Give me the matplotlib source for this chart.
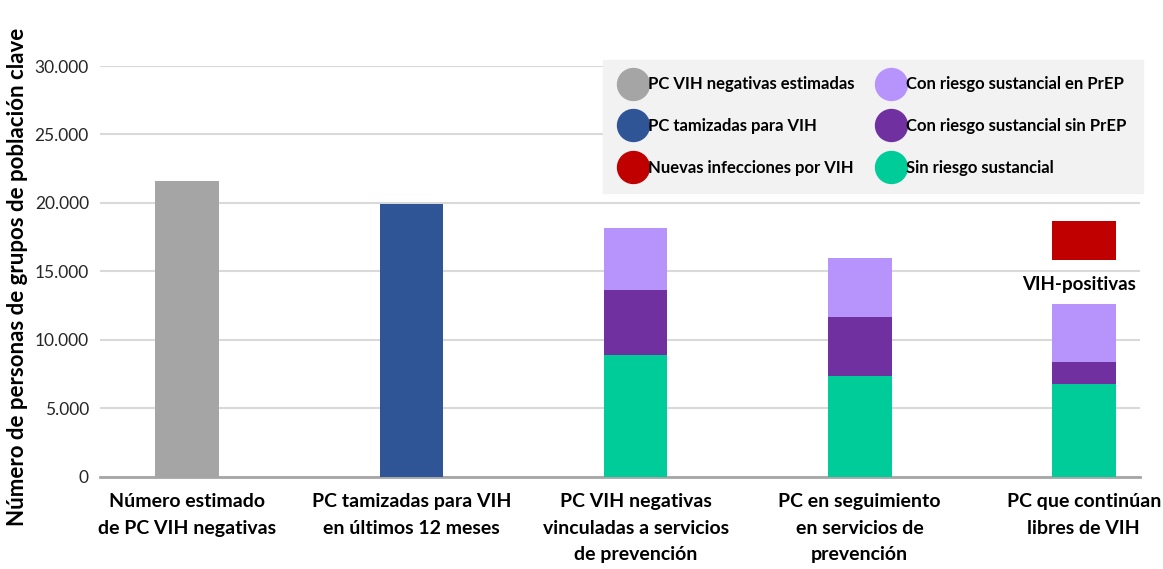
import numpy as np
import matplotlib.pyplot as plt
from matplotlib.lines import Line2D
from matplotlib.ticker import FuncFormatter

plt.rcParams['font.family'] = ['Lato', 'DejaVu Sans']

categories = ['Número estimado\nde PC VIH negativas',
              'PC tamizadas para VIH\nen últimos 12 meses',
              'PC VIH negativas\nvinculadas a servicios\nde prevención',
              'PC en seguimiento\nen servicios de\nprevención',
              'PC que continúan\nlibres de VIH']
estimadas = 21600
tamizadas = 19900
sin_riesgo = [8900, 7370, 6800]
sin_prep = [4750, 4280, 1600]
en_prep = [4550, 4350, 4200]
infecciones_base = 15800
infecciones = 2900

c_gray = '#a5a5a5'
c_blue = '#2f5597'
c_red = '#c00000'
c_light = '#b794fc'
c_dark = '#7030a0'
c_green = '#00cc99'

fig = plt.figure(figsize=(11.63, 5.69), dpi=100)
ax = fig.add_axes([0.086, 0.162, 0.894, 0.722])

x = np.arange(len(categories))
w = 0.285
ax.bar(x[0], estimadas, w, color=c_gray, zorder=3)
ax.bar(x[1], tamizadas, w, color=c_blue, zorder=3)
xs = x[2:]
ax.bar(xs, sin_riesgo, w, color=c_green, zorder=3)
ax.bar(xs, sin_prep, w, bottom=sin_riesgo, color=c_dark, zorder=3)
ax.bar(xs, en_prep, w, bottom=np.add(sin_riesgo, sin_prep), color=c_light, zorder=3)
ax.bar(x[4], infecciones, w, bottom=infecciones_base, color=c_red, zorder=3)
ax.text(x[4] - 0.02, infecciones_base - 1150, 'VIH-positivas', ha='center', va='top',
        fontsize=13.5, fontweight='bold', zorder=4)

ax.set_ylim(0, 30000)
ax.set_xlim(-0.39, 4.25)
ax.set_yticks(np.arange(0, 30001, 5000))
ax.yaxis.set_major_formatter(FuncFormatter(lambda v, p: f'{int(v):,}'.replace(',', '.')))
ax.grid(axis='y', color='#d9d9d9', linewidth=1.5, zorder=0)
ax.set_xticks(x)
ax.set_xticklabels(categories, fontsize=14, fontweight='bold', linespacing=1.65)
ax.tick_params(axis='both', length=0)
ax.tick_params(axis='y', labelsize=12.5, pad=8, labelcolor='#262626')
ax.tick_params(axis='x', pad=12)
for s in ['top', 'right', 'left']:
    ax.spines[s].set_visible(False)
ax.spines['bottom'].set_color('#a6a6a6')
ax.spines['bottom'].set_linewidth(2)
ax.set_ylabel('Número de personas de grupos de población clave', fontsize=16,
              fontweight='bold')
ax.yaxis.set_label_coords(-0.069, 0.487)

labels = ['PC VIH negativas estimadas', 'PC tamizadas para VIH', 'Nuevas infecciones por VIH',
          'Con riesgo sustancial en PrEP', 'Con riesgo sustancial sin PrEP', 'Sin riesgo sustancial']
colors = [c_gray, c_blue, c_red, c_light, c_dark, c_green]
handles = [Line2D([], [], marker='o', linestyle='', markersize=23, color=c) for c in colors]
leg = fig.legend(handles, labels, ncol=2, loc='upper left', bbox_to_anchor=(0.5185, 0.895),
                 borderaxespad=0, frameon=True, fancybox=False, facecolor='#f2f2f2',
                 edgecolor='#f2f2f2', prop={'weight': 'bold', 'size': 12},
                 handletextpad=0.1, columnspacing=1.4, labelspacing=1.55, borderpad=1.0,
                 handlelength=1.6)
leg.get_frame().set_alpha(1)

fig.savefig('out.png', dpi=100)
